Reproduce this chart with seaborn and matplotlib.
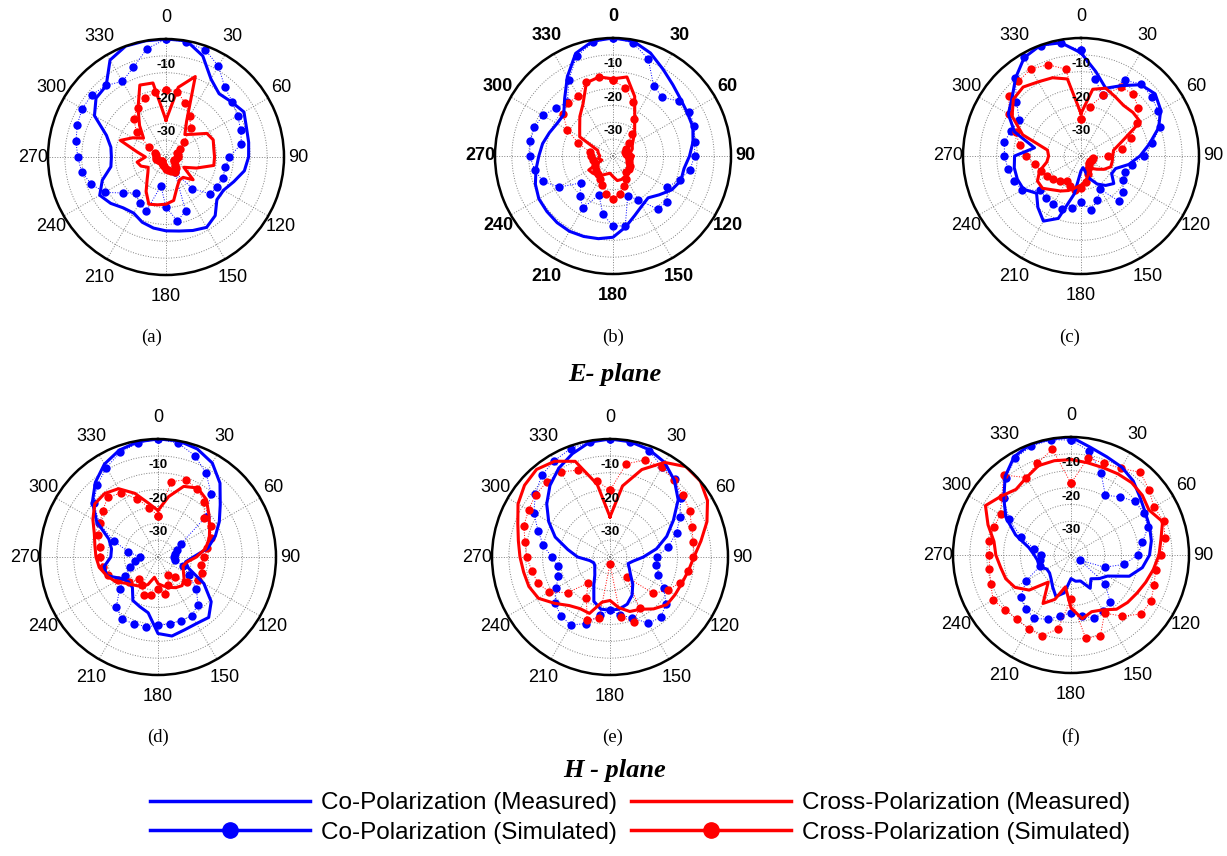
import numpy as np
import matplotlib
matplotlib.use("Agg")
import matplotlib.pyplot as plt
import seaborn as sns
from matplotlib.lines import Line2D

plt.rcParams['font.family'] = ['Liberation Sans', 'DejaVu Sans']

# angles of the pattern samples (deg, clockwise from top) and grid
angles = np.arange(0, 360, 10)
tick_angles = np.arange(0, 360, 30)
ring_levels = [-30, -25, -20, -15, -10, -5]
ring_labels = [-30, -20, -10]

# ---- (a) E-plane ----
a_co_meas = [0, 0, -3.1, -8.3, -10.5, -9.6, -8.3, -9.6, -10.1, -10.5, -11.4, -13.6, -15.3, -15.3, -12.3, -10.9, -11.8, -12.7,
             -13.1, -13.6, -14.4, -15.8, -15.3, -13.6, -12.3, -14.9, -18.4, -18.8, -18.4, -16.2, -10.5, -7.9, -7.4, -1.8, 0, 0]
a_co_sim = [0, -0.4, -1.1, -3.9, -7.9, -9.4, -10.5, -11.4, -12.3, -16.2, -17.1, -17.1, -17.5, -17.9, -22.8, -29.8, -17.9, -15.8,
            -20.1, -26.3, -17.9, -19.3, -21, -18.4, -14, -11.4, -9.6, -8.8, -7.9, -7, -6.3, -6.3, -7.3, -9.1, -6.7, -2.4]
a_x_meas = [-24.1, -14, -9.6, -22.8, -26.3, -24.5, -21, -20.1, -20.6, -20.6, -20.6, -25.4, -28.9, -24.5, -27.1, -27.1, -25.4, -21.9,
            -21, -20.6, -20.1, -23.2, -26.3, -28, -28.9, -27.1, -26.3, -28.9, -26.3, -20.6, -23.6, -26.3, -22.8, -18.4, -12.3, -12.7]
a_x_sim = [-15.2, -15.4, -18.1, -21, -23.6, -28, -30.2, -31.5, -31.5, -31.5, -31.9, -32.4, -32.4, -31.5, -30.6, -29.8, -30.6, -31.1,
           -31.5, -32.4, -32.4, -32.8, -33.3, -33.3, -32.8, -32.4, -31.9, -31.9, -31.9, -31.5, -29.3, -23.6, -20.1, -18.1, -16.5, -15.5]

# ---- (b) E-plane ----
b_co_meas = [0, -0.4, -2.5, -5.3, -7.4, -8.8, -9.5, -9.8, -10.9, -12.3, -13.6, -13.6, -14.9, -17.1, -18.8, -17.9, -16.2, -13.6,
             -10.9, -10.1, -9.6, -9.2, -9.2, -9.4, -9.6, -10.5, -11.8, -13, -13.8, -14.9, -15.8, -15.9, -12.7, -7.9, -2.6, -0.4]
b_co_sim = [0, -0.9, -4.4, -10.9, -12.3, -9.6, -8.8, -9.3, -10.4, -10.8, -11.8, -14, -16.5, -14, -14.4, -20.1, -22.3, -14,
            -14.2, -17.5, -22.8, -17.1, -19.7, -22.6, -16.6, -12.9, -11.4, -10.3, -10, -10.2, -10.9, -13, -14, -8.8, -3.5, -0.8]
b_x_meas = [-12.1, -11.2, -16.2, -22.1, -25, -27.1, -28.4, -28.9, -29.8, -28.9, -29.3, -29.8, -29.8, -29.3, -28.4, -28, -27.6, -27.6,
            -28.9, -29.8, -29.3, -28.4, -27.6, -27.1, -26.7, -31.5, -30.6, -31.1, -30.6, -30.2, -23.6, -22.1, -19.7, -17.2, -11.9, -11.2]
b_x_sim = [-12.6, -14.4, -17.9, -22.3, -26.3, -28.9, -30.6, -31.3, -31.1, -30.6, -30.2, -29.8, -29.3, -28.9, -28.9, -27.1, -25.4, -23.6,
           -22.3, -23.6, -25.8, -27.1, -28, -28.4, -28.9, -29.3, -28.9, -28.4, -28, -24.1, -19.3, -15.6, -14.4, -14.4, -11.6, -11.3]

# ---- (c) E-plane ----
c_co_meas = [-4.4, -9.6, -13.6, -10.9, -7.4, -6.3, -7.7, -10.5, -14.4, -17.5, -20.6, -24.1, -24.5, -22.3, -23.6, -25.4, -28, -31.5,
             -30.6, -23.6, -15.3, -12.7, -15.1, -17.8, -15.3, -14.9, -14.9, -15.3, -21, -14, -10.1, -8.3, -4.8, -1.3, 0, -0.9]
c_co_sim = [-3.7, -11.7, -15.9, -9.1, -7.1, -7.7, -8.5, -10.1, -13.5, -16.2, -19.5, -21, -20.7, -18.6, -17.6, -23.6, -21, -18.6,
            -21.4, -19.3, -18.3, -18.4, -18.8, -19.1, -14.9, -13.7, -13, -12.3, -11.9, -12.9, -13.9, -10, -4.7, -1.1, -0.4, -0.9]
c_x_meas = [-22.4, -14.9, -13.6, -14.7, -15.4, -14.9, -14.7, -21.9, -25.2, -25.6, -25.6, -25.6, -27.1, -28.9, -30.2, -30.6, -28.9, -27.3,
            -26.4, -25.4, -24.1, -23, -21.9, -20.1, -20.1, -21.9, -24.7, -25.4, -24.9, -16.6, -11.4, -8.8, -8.3, -9.6, -10.3, -11.8]
c_x_sim = [-23.9, -20.1, -15.8, -11.4, -11, -12.8, -15.7, -19.3, -22.8, -27.1, -31.5, -31.5, -31.9, -31.9, -31.5, -30.6, -29.3, -27.1,
           -25.4, -24.7, -25.4, -26.5, -25.4, -24.2, -23.2, -22.3, -21, -18.7, -16.5, -14.4, -10.2, -7.2, -6.1, -5.2, -6.2, -8.8]

# ---- (d) H-plane ----
d_co_meas = [0, 0, -0.9, -2.8, -6.4, -10.9, -14, -16.9, -20, -24.5, -26.7, -25.4, -19.3, -14.4, -11.6, -12.2, -12, -11.2,
             -12.3, -18.2, -19.3, -20.1, -23.2, -23.6, -22.3, -18.8, -18.8, -21, -21, -19.5, -14, -9.6, -6.1, -3.2, -1.3, -0.3]
d_co_sim = [0, -0.7, -3, -6.4, -10.5, -16.6, -27.1, -28.9, -29.8, -30.2, -29.8, -27.1, -24.5, -20.1, -16.6, -14.9, -14.9, -14.9,
            -14.7, -14, -14, -13.6, -15.8, -20.1, -23.6, -26.3, -28, -29.6, -26, -21, -14.9, -10.1, -7, -4.4, -2, -0.7]
d_x_meas = [-21.2, -16.8, -12.7, -11.4, -12.7, -15.3, -17.3, -18.8, -20.7, -23.6, -26.3, -27.1, -26.3, -24.9, -23.9, -24.5, -25.4, -26.3,
            -27.1, -28.9, -26.3, -24.9, -24.1, -22.8, -20.4, -18.8, -17.3, -16.6, -16, -14.9, -12.7, -10.5, -10.4, -11.6, -14.9, -18.8]
d_x_sim = [-22.8, -12.3, -10.6, -11.8, -13.6, -17.1, -16.9, -18.3, -20.1, -21.4, -21.9, -21, -21.2, -23.6, -27.1, -28.9, -26.3, -23.8,
           -25.4, -23.6, -22.9, -25.4, -26.3, -23.6, -21.3, -19.3, -18.4, -17.9, -17.4, -16.2, -15.1, -13.6, -11.8, -13.1, -16.6, -20.1]

# ---- (e) H-plane ----
e_co_meas = [0, -0.3, -1.1, -2.6, -5.3, -8.6, -13.3, -17.1, -21, -25.1, -28, -29.3, -28.4, -27.1, -24.5, -21.9, -20.1, -19.3,
             -19.2, -19.3, -21, -25.4, -28, -29.1, -29.8, -29.9, -28.9, -25.4, -22.3, -17.7, -14, -10.5, -7.3, -4.6, -2.4, -0.4]
e_co_sim = [0, -0.4, -1.4, -4.1, -4.8, -7.7, -11, -14, -17.5, -21.2, -21, -19.7, -16.6, -13.3, -11.6, -12.3, -15.8, -17.5,
            -19.2, -17.4, -14, -11.7, -12.3, -13.7, -16.6, -18.6, -19.3, -17.7, -14.9, -12.3, -8.9, -6.1, -3.4, -2, -0.8, -0.3]
e_x_meas = [-23.1, -13.6, -7.4, -2.6, 0, 0, -1.6, -4.4, -7.6, -10.1, -11.4, -12.3, -12.7, -13, -14.9, -17.1, -17.8, -19.7,
            -22.1, -21.4, -17.2, -17.3, -16.2, -13.6, -10.5, -9.4, -9, -8.3, -7.4, -5.9, -3.5, -1.9, -1.1, -2.2, -4.8, -13.1]
e_x_sim = [-15.2, -6.9, -4.4, -4.3, -5.3, -6.6, -7.7, -9.2, -9.9, -10.3, -11.4, -12.8, -15.3, -18.2, -27.1, -17.5, -14.5, -17,
           -33, -16.6, -15.1, -21, -24.9, -18.6, -14.2, -12.3, -11.4, -10.3, -9.4, -7.8, -7.1, -6.2, -5.9, -5.8, -7.6, -12]

# ---- (f) H-plane ----
f_co_meas = [0, -2.5, -4, -4.9, -6.3, -8.3, -9.6, -10.2, -10.8, -11.7, -13.5, -16.6, -22.5, -24.1, -25.8, -23.6, -26.8, -27.1,
             -28, -23.6, -21.9, -24.1, -25.8, -26.7, -26.7, -24.9, -25, -24.1, -22.3, -17.5, -12.7, -9, -4.6, -1.3, 0, 0]
f_co_sim = [-0.9, -3.7, -9, -14.6, -12.4, -10.3, -10.1, -10.7, -13.5, -15.2, -19, -24.4, -31.9, -21.8, -16.9, -15.8, -15.1, -16.6,
            -17.9, -16.6, -14.7, -13.3, -14.1, -15.5, -19.6, -25.1, -25.8, -26.1, -23.9, -19.2, -13.8, -8.9, -5.1, -1.8, -0.7, -0.3]
f_x_meas = [-6.7, -7.2, -7.4, -7.2, -7, -7.4, -8.3, -6.1, -7.9, -8.9, -10.2, -11.4, -12.4, -13.1, -14, -16.2, -17.1, -15.8,
            -19.3, -25.4, -21, -18.4, -24.5, -18.8, -15.8, -14.4, -13.8, -12.7, -11.8, -8.8, -5.7, -7.9, -9.6, -8.5, -6.8, -6.6]
f_x_sim = [-13.7, -5.7, -6.1, -5.3, -3, -4.8, -6.6, -5.7, -6.7, -8.3, -9.5, -8.8, -7.6, -7.8, -11.3, -15.1, -9.5, -10,
           -21.9, -12.7, -9.5, -9.8, -10.1, -9.6, -8.3, -9.7, -10.4, -10.8, -10.4, -10.7, -10.9, -8.2, -4, -8.5, -5.9, -3.2]

captions = ["(a)", "(b)", "(c)", "(d)", "(e)", "(f)"]
legend_labels = ["Co-Polarization (Measured)", "Co-Polarization (Simulated)",
                 "Cross-Polarization (Measured)", "Cross-Polarization (Simulated)"]

BLUE = "#0000ff"
RED = "#ff0000"
W, H = 1227, 856


def closed(v):
    return np.append(v, v[0])


def draw_pattern(ax, co_meas, co_sim, x_meas, x_sim, bold=False):
    th = np.radians(np.append(angles, 360))
    # simulated: dots joined by a thin dotted line
    for vals, col in [(co_sim, BLUE), (x_sim, RED)]:
        sns.lineplot(x=th, y=closed(vals), ax=ax, sort=False, estimator=None, color=col,
                     linewidth=0.7, linestyle=':', marker='o', markersize=6, markeredgewidth=0)
    # measured: solid lines
    for vals, col in [(co_meas, BLUE), (x_meas, RED)]:
        sns.lineplot(x=th, y=closed(vals), ax=ax, sort=False, estimator=None, color=col, linewidth=2.2)

    ax.set_theta_zero_location('N')
    ax.set_theta_direction(-1)
    ax.set_ylim(-35, 0)
    ax.set_yticks(ring_levels)
    ax.set_yticklabels([])
    ax.set_xticks(np.radians(tick_angles))
    ax.set_xticklabels([])
    ax.set_xticks(np.radians(angles), minor=True)
    ax.tick_params(axis='x', which='major', direction='in', length=5, width=1.2)
    ax.tick_params(axis='x', which='minor', direction='in', length=4, width=1.0)
    ax.grid(True, linestyle=':', color='#808080', linewidth=0.7)
    ax.spines['polar'].set_linewidth(1.8)
    ax.set_xlabel('')
    ax.set_ylabel('')
    # angle labels centred just outside the rim
    for a in tick_angles:
        t = np.radians(a)
        ax.text(0.5 + 0.562 * np.sin(t), 0.5 + 0.59 * np.cos(t), str(a), transform=ax.transAxes,
                ha='center', va='center', fontsize=13, fontweight='bold' if bold else 'normal')
    for lv in ring_labels:
        ax.text(0, lv + 2.3, str(lv), ha='center', va='center', fontsize=9.5, fontweight='bold')


fig = plt.figure(figsize=(W / 100, H / 100), dpi=100)
fig.patch.set_facecolor('white')

centers = [(166, 157), (613, 156), (1081, 156), (158, 557), (610, 557), (1071, 555)]
caption_pos = [(152, 337), (613, 337), (1070, 337), (158, 737), (613, 737), (1070, 737)]
R = 118
series = [
    (a_co_meas, a_co_sim, a_x_meas, a_x_sim),
    (b_co_meas, b_co_sim, b_x_meas, b_x_sim),
    (c_co_meas, c_co_sim, c_x_meas, c_x_sim),
    (d_co_meas, d_co_sim, d_x_meas, d_x_sim),
    (e_co_meas, e_co_sim, e_x_meas, e_x_sim),
    (f_co_meas, f_co_sim, f_x_meas, f_x_sim),
]

for i, ((cx, cy), data) in enumerate(zip(centers, series)):
    ax = fig.add_axes([(cx - R) / W, 1 - (cy + R) / H, 2 * R / W, 2 * R / H], projection='polar')
    draw_pattern(ax, *data, bold=(i == 1))
    px, py = caption_pos[i]
    fig.text(px / W, 1 - py / H, captions[i], ha='center', va='center',
             fontsize=13.5, family='Liberation Serif')

fig.text(615 / W, 1 - 375 / H, "E- plane", ha='center', va='center', fontsize=19,
         family='Liberation Serif', fontweight='bold', style='italic')
fig.text(615 / W, 1 - 770 / H, "H - plane", ha='center', va='center', fontsize=19,
         family='Liberation Serif', fontweight='bold', style='italic')

handles = [
    Line2D([], [], color=BLUE, linewidth=2.5),
    Line2D([], [], color=BLUE, linewidth=2.5, marker='o', markersize=11),
    Line2D([], [], color=RED, linewidth=2.5),
    Line2D([], [], color=RED, linewidth=2.5, marker='o', markersize=11),
]
fig.legend(handles, legend_labels, loc='center', bbox_to_anchor=(640 / W, 1 - 818 / H), ncol=2,
           frameon=False, fontsize=17.5, handlelength=6.6, handletextpad=0.45, columnspacing=0.55,
           labelspacing=0.3, numpoints=1)

fig.savefig("out.png", dpi=100, facecolor='white')
